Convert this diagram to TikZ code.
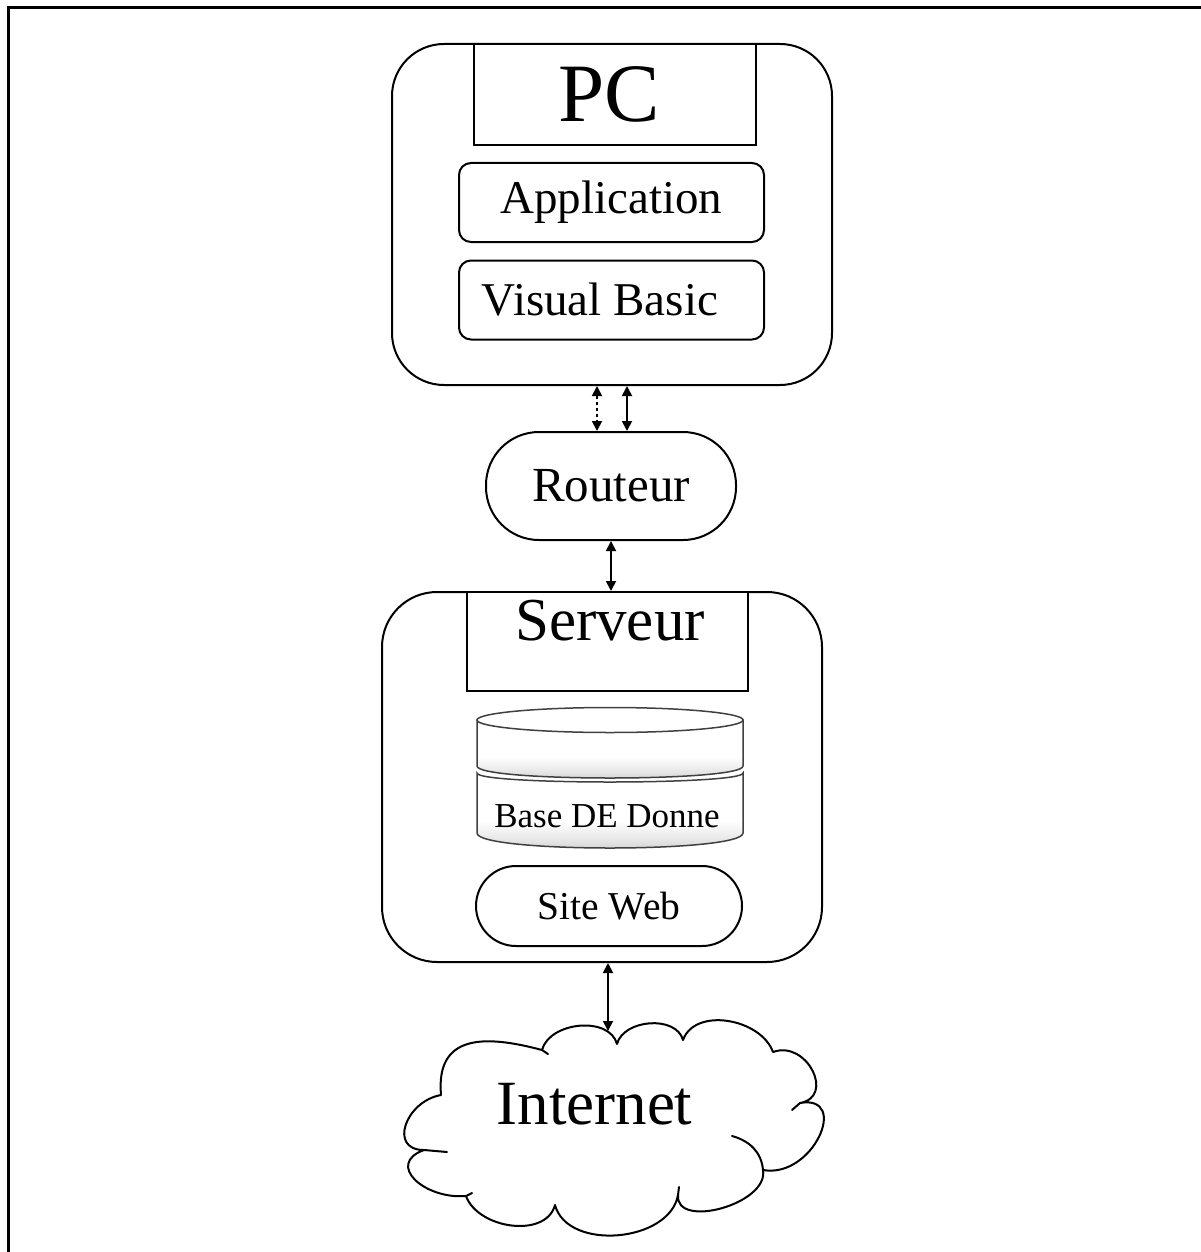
\documentclass[tikz,border=0pt]{standalone}
\usepackage{fontspec}
\setmainfont{Liberation Serif}
\usetikzlibrary{arrows.meta}
\newcommand\fsz[1]{\fontsize{#1}{#1}\selectfont}
% soft fade used on the tiers of the database cylinder (bottom grey, upper part white)
\pgfdeclareverticalshading{tierfade}{100bp}{color(0bp)=(black!20); color(25bp)=(black!20);
  color(33bp)=(black!10); color(45bp)=(white); color(100bp)=(white)}

\begin{document}
\begin{tikzpicture}[x=1pt,y=1pt,
  boxline/.style={draw=black, line width=2pt},
  container/.style={boxline, fill=white, inner sep=0pt},
  titlebox/.style={boxline, fill=white, inner sep=0pt},
  innerbox/.style={boxline, fill=white, rounded corners=12pt, inner sep=0pt,
                   minimum width=305pt, minimum height=79pt, font=\fsz{47}},
  pill/.style={boxline, fill=white, inner sep=0pt},
  link/.style={line width=1.8pt, {Triangle[length=10pt,width=10pt]}-{Triangle[length=10pt,width=10pt]}},
  dbline/.style={draw=black!75, line width=1.5pt},
  cloudline/.style={draw=black, line width=2pt, line cap=round, line join=round}]

\useasboundingbox (0,0) rectangle (1201,-1252);
\fill[white] (0,0) rectangle (1201,-1252);

% page frame (top and left edges)
\draw[line width=3pt] (8,-1252) -- (8,-8) -- (1201,-8);

% ---- PC block ----
\node[container, rounded corners=52pt, minimum width=440pt, minimum height=341pt] (pc) at (612,-214.5) {};
\node[titlebox, minimum width=282pt, minimum height=101pt, font=\fsz{83}] (pctitle) at (615,-94.5) {PC\kern12pt};
\node[innerbox] (app) at (611.5,-202.5) {Application};
\node[innerbox] (vb) at (611.5,-300) {Visual Basic\kern23pt};

% ---- Router ----
\node[pill, rounded corners=53pt, minimum width=250pt, minimum height=108pt, font=\fsz{49}] (routeur) at (611,-486) {Routeur};

% ---- Server block ----
\node[container, rounded corners=55pt, minimum width=440pt, minimum height=370pt] (serveur) at (602,-777) {};
\node[titlebox, minimum width=281pt, minimum height=99pt] (srvtitle) at (607.5,-641.5) {};
\node[font=\fsz{61}, inner sep=0pt] (srvtext) at (610,-621) {Serveur};

% database cylinder: lower tier, upper tier, lid
\path[dbline, shading=tierfade]
  (477,-773) -- (477,-833) .. controls (477,-853) and (743,-853) .. (743,-833)
  -- (743,-773) .. controls (743,-785) and (477,-785) .. (477,-773) -- cycle;
\path[dbline, shading=tierfade]
  (477,-720) -- (477,-766) .. controls (477,-782) and (743,-782) .. (743,-766)
  -- (743,-720) -- cycle;
\draw[dbline, fill=white] (610,-720) ellipse[x radius=133, y radius=12.5];
\node[font=\fsz{35}, inner sep=0pt] (db) at (607,-816.5) {Base DE Donne};

\node[pill, rounded corners=40pt, minimum width=266pt, minimum height=80pt, font=\fsz{39.5}] (web) at (609,-906) {Site Web};

% ---- Internet cloud ----
\path[cloudline, fill=white]
  (617,-1044) to[out=75,in=105] (683,-1040)
  to[out=70,in=110] (773,-1052)
  to[out=20,in=10,looseness=1.6] (800,-1103)
  to[out=10,in=-10,looseness=1.7] (763,-1170)
  to[out=-80,in=-95] (678,-1195)
  to[out=-100,in=-75] (555,-1205)
  to[out=-105,in=-70] (466,-1196)
  to[out=185,in=200,looseness=1.7] (424,-1150)
  to[out=180,in=190,looseness=1.6] (441,-1095)
  to[out=95,in=165,looseness=1.4] (542,-1050)
  to[out=75,in=105] (617,-1044);
% inner folds of the cloud outline
\draw[cloudline] (732,-1136) to[out=-15,in=95] (763,-1170);
\draw[cloudline] (424,-1150) -- (447,-1152);
\draw[cloudline] (800,-1103) -- (792,-1110);
\draw[cloudline] (678,-1195) -- (679,-1187);
\draw[cloudline] (466,-1196) -- (472,-1193);
\draw[cloudline] (542,-1050) -- (548,-1054);
\node[font=\fsz{63}, inner sep=0pt] (internet) at (594.5,-1104) {Internet};
\coordinate (cloudtop) at (608,-1031);

% ---- connectors ----
\draw[link, dash pattern=on 3pt off 3pt] ([xshift=-15pt]pc.south) -- ([xshift=-14pt]routeur.north);
\draw[link] ([xshift=15pt]pc.south) -- ([xshift=16pt]routeur.north);
\draw[link] (routeur.south) -- (routeur.south |- serveur.north);
\draw[link] (serveur.south -| cloudtop) -- (cloudtop);
\end{tikzpicture}
\end{document}
